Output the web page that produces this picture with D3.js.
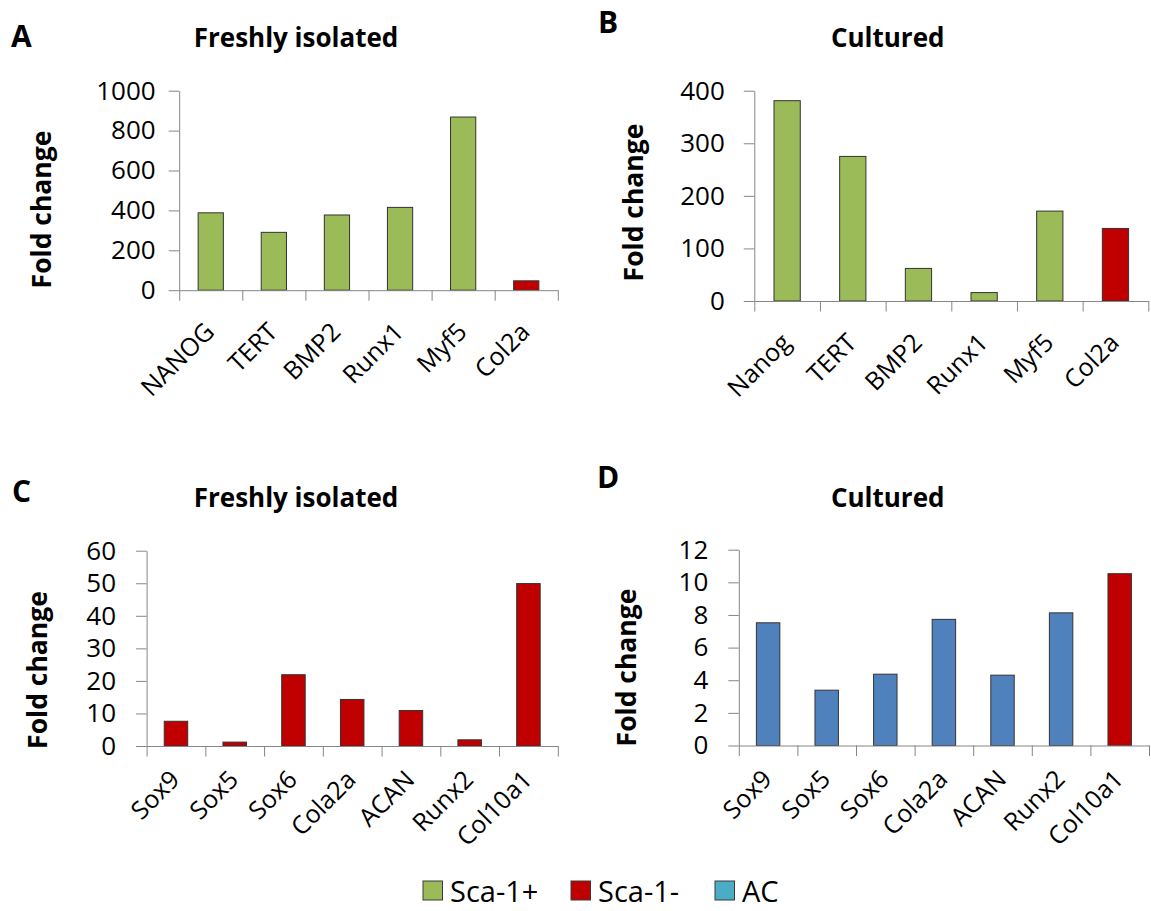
<!DOCTYPE html>
<html>
<head>
<meta charset="utf-8">
<script src="https://cdn.jsdelivr.net/npm/d3@7"></script>
<style>
    body { margin: 0; background: #fff; }
    svg { display: block; font-family: "Open Sans", sans-serif; }
</style>
</head>
<body>
<svg id="fig" width="1151" height="911"></svg>
<script>
// data
const genesA = ["NANOG", "TERT", "BMP2", "Runx1", "Myf5", "Col2a"];
const foldA = [388, 290, 377, 415, 868, 47];
const groupA = ["Sca-1+", "Sca-1+", "Sca-1+", "Sca-1+", "Sca-1+", "Sca-1-"];
const ticksA = [0, 200, 400, 600, 800, 1000];

const genesB = ["Nanog", "TERT", "BMP2", "Runx1", "Myf5", "Col2a"];
const foldB = [381, 275, 62, 16, 171, 138];
const groupB = ["Sca-1+", "Sca-1+", "Sca-1+", "Sca-1+", "Sca-1+", "Sca-1-"];
const ticksB = [0, 100, 200, 300, 400];

const genesC = ["Sox9", "Sox5", "Sox6", "Cola2a", "ACAN", "Runx2", "Col10a1"];
const foldC = [7.6, 1.2, 21.9, 14.3, 10.9, 1.9, 49.9];
const groupC = ["Sca-1-", "Sca-1-", "Sca-1-", "Sca-1-", "Sca-1-", "Sca-1-", "Sca-1-"];
const ticksC = [0, 10, 20, 30, 40, 50, 60];

const genesD = ["Sox9", "Sox5", "Sox6", "Cola2a", "ACAN", "Runx2", "Col10a1"];
const foldD = [7.52, 3.39, 4.37, 7.73, 4.31, 8.13, 10.53];
const groupD = ["AC", "AC", "AC", "AC", "AC", "AC", "Sca-1-"];
const ticksD = [0, 2, 4, 6, 8, 10, 12];

const legendLabels = ["Sca-1+", "Sca-1-", "AC"];

const BAR_COLORS = {
    "Sca-1+": "#9BBB59",
    "Sca-1-": "#C00000",
    "AC": "#4F81BD",
}
const LEGEND_COLORS = {
    "Sca-1+": "#9BBB59",
    "Sca-1-": "#C00000",
    "AC": "#4BACC6",
}
const AXIS_COLOR = "#868686";

const panels = [
    { letter: "A", title: "Freshly isolated", genes: genesA, vals: foldA, groups: groupA, ticks: ticksA,
      x0: 179.2, x1: 557.8, yTop: 90.7, yBot: 290.2, tickPad: 13, labDy: 37,
      letterPos: [11, 47], titleX: 296, titleY: 47, ylabX: 44.4, ylabY: 209.5 },
    { letter: "B", title: "Cultured", genes: genesB, vals: foldB, groups: groupB, ticks: ticksB,
      x0: 754.3, x1: 1148.3, yTop: 90.7, yBot: 301, tickPad: 19, labDy: 37,
      letterPos: [598, 33], titleX: 887.7, titleY: 47, ylabX: 636.4, ylabY: 202.5 },
    { letter: "C", title: "Freshly isolated", genes: genesC, vals: foldC, groups: groupC, ticks: ticksC,
      x0: 146.6, x1: 557.8, yTop: 550.7, yBot: 746, tickPad: 20, labDy: 29,
      letterPos: [12, 502], titleX: 296, titleY: 507, ylabX: 40.7, ylabY: 670 },
    { letter: "D", title: "Cultured", genes: genesD, vals: foldD, groups: groupD, ticks: ticksD,
      x0: 738.8, x1: 1149, yTop: 549.7, yBot: 745.5, tickPad: 20, labDy: 29,
      letterPos: [597, 488], titleX: 887.7, titleY: 507, ylabX: 629.2, ylabY: 667.5 },
]

function drawPanel(svg, p) {
    const n = p.genes.length;

    let scaleX = d3.scaleBand()
        .domain(p.genes)
        .range([p.x0, p.x1])
        .paddingInner(0.6)
        .paddingOuter(0.3);

    // category boundaries for the x tick marks
    let scaleEdge = d3.scaleLinear()
        .domain([0, n])
        .range([p.x0, p.x1]);

    let scaleY = d3.scaleLinear()
        .domain([0, d3.max(p.ticks)])
        .range([p.yBot, p.yTop]);

    // y axis
    let gy = svg.append("g")
        .attr("transform", `translate(${p.x0}, 0)`)
        .call(d3.axisLeft(scaleY)
            .tickValues(p.ticks)
            .tickFormat(d3.format("d"))
            .tickSize(10.5)
            .tickSizeOuter(0)
            .tickPadding(p.tickPad));
    gy.selectAll("path, line").attr("stroke", AXIS_COLOR);
    gy.selectAll("text")
        .attr("fill", "#000")
        .style("font-size", "26px")
        .style("font-family", "'Open Sans', sans-serif");

    // bars
    svg.append("g")
        .selectAll("rect")
        .data(p.vals)
        .enter()
        .append("rect")
        .attr("x", (d, i) => scaleX(p.genes[i]))
        .attr("width", scaleX.bandwidth())
        .attr("y", d => scaleY(d))
        .attr("height", d => scaleY(0) - scaleY(d))
        .attr("fill", (d, i) => BAR_COLORS[p.groups[i]])
        .attr("stroke", "#333")
        .attr("stroke-width", 1);

    // x axis, tick marks between categories
    let gx = svg.append("g")
        .attr("transform", `translate(0, ${p.yBot})`)
        .call(d3.axisBottom(scaleEdge)
            .tickValues(d3.range(n + 1))
            .tickFormat("")
            .tickSize(10.5)
            .tickSizeOuter(0));
    gx.selectAll("path, line").attr("stroke", AXIS_COLOR);

    // rotated category labels
    svg.append("g")
        .selectAll("text")
        .data(p.genes)
        .enter()
        .append("text")
        .attr("transform", d => `translate(${scaleX(d) + scaleX.bandwidth() / 2 - 1}, ${p.yBot + p.labDy}) rotate(-45)`)
        .attr("text-anchor", "end")
        .attr("dy", "0.35em")
        .style("font-size", "25px")
        .text(d => d);

    // y axis title
    svg.append("text")
        .attr("transform", `translate(${p.ylabX + 6.5}, ${p.ylabY}) rotate(-90)`)
        .attr("text-anchor", "middle")
        .style("font-size", "26.5px")
        .style("font-weight", "bold")
        .text("Fold change");

    // panel title
    svg.append("text")
        .attr("x", p.titleX)
        .attr("y", p.titleY)
        .attr("text-anchor", "middle")
        .style("font-size", "26px")
        .style("font-weight", "bold")
        .text(p.title);

    // panel letter
    svg.append("text")
        .attr("x", p.letterPos[0])
        .attr("y", p.letterPos[1])
        .style("font-size", "30px")
        .style("font-weight", "bold")
        .text(p.letter);
}

function drawLegend(svg) {
    const startX = [423, 571, 715];
    let g = svg.append("g");
    legendLabels.forEach((lab, i) => {
        g.append("rect")
            .attr("x", startX[i])
            .attr("y", 881)
            .attr("width", 19.5)
            .attr("height", 19)
            .attr("fill", LEGEND_COLORS[lab])
            .attr("stroke", "#3a3a3a")
            .attr("stroke-width", 1);
        g.append("text")
            .attr("x", startX[i] + 27)
            .attr("y", 902)
            .style("font-size", "29px")
            .text(lab);
    })
}

let svg = d3.select("#fig");
panels.forEach(p => drawPanel(svg, p));
drawLegend(svg);
</script>
</body>
</html>
